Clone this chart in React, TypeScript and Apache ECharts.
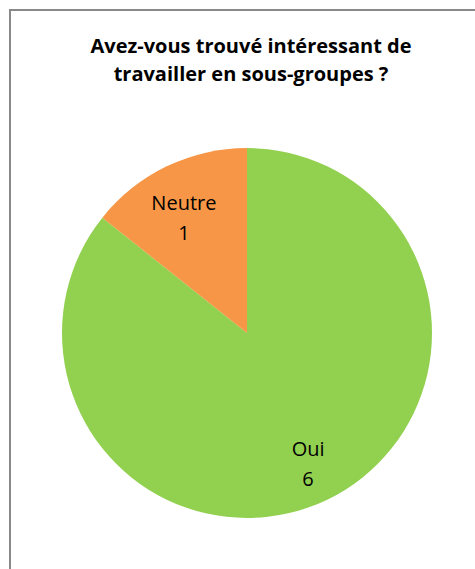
import React, { useEffect, useRef } from "react";
import * as echarts from "echarts";

const titleLines = ["Avez-vous trouvé intéressant de", "travailler en sous-groupes ?"];
const categories = ["Oui", "Neutre"];
const values = [6, 1];
const colors = ["#92D050", "#F79646"];

export default function App() {
  const ref = useRef<HTMLDivElement>(null);
  useEffect(() => {
    const chart = echarts.init(ref.current!, null, { renderer: "svg" });
    const data = categories.map((c, i) => ({ name: c, value: values[i], itemStyle: { color: colors[i] } }));
    const labelOffsets = [[1, 6], [-3, 9]];
    chart.setOption({
      animation: false,
      backgroundColor: "#ffffff",
      title: {
        text: titleLines.join("\n"),
        left: 246,
        textAlign: "center",
        top: 26,
        textStyle: {
          fontFamily: "Open Sans",
          fontSize: 20,
          fontWeight: "bold",
          color: "#000000",
          lineHeight: 28,
        },
      },
      graphic: [
        {
          type: "rect",
          shape: { x: 10, y: 10, width: 500, height: 600 },
          style: { fill: "none", stroke: "#898989", lineWidth: 2 },
          silent: true,
        },
      ],
      series: [
        {
          type: "pie",
          center: [247, 333],
          radius: [0, 185],
          startAngle: 90,
          clockwise: true,
          silent: true,
          label: { show: false },
          labelLine: { show: false },
          data,
        },
        {
          type: "pie",
          center: [247, 333],
          radius: [86, 185],
          startAngle: 90,
          clockwise: true,
          silent: true,
          z: 3,
          itemStyle: { color: "transparent", borderWidth: 0 },
          label: {
            show: true,
            position: "inside",
            formatter: "{b}\n{c}",
            fontFamily: "Open Sans",
            fontSize: 20,
            lineHeight: 30,
            color: "#000000",
          },
          labelLine: { show: false },
          data: categories.map((c, i) => ({
            name: c,
            value: values[i],
            itemStyle: { color: "transparent" },
            label: { offset: labelOffsets[i] },
          })),
        },
      ],
    });
    return () => chart.dispose();
  }, []);
  return (
    <div
      ref={ref}
      style={{ position: "fixed", left: 0, top: 0, width: 475, height: 569 }}
    />
  );
}
